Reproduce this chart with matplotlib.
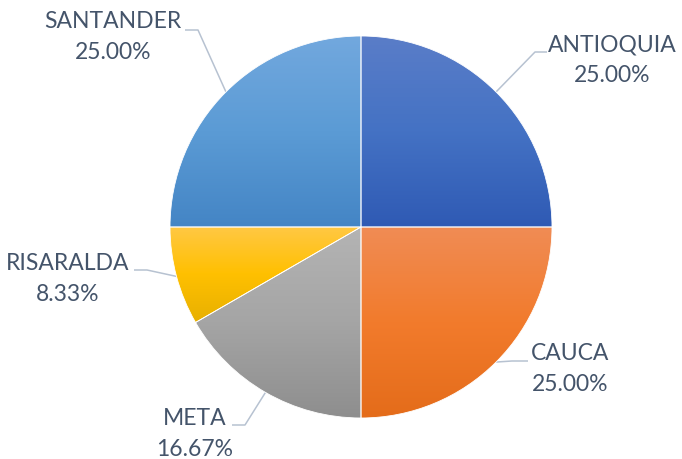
import numpy as np
import matplotlib
matplotlib.use("Agg")
import matplotlib.pyplot as plt
from matplotlib.colors import LinearSegmentedColormap

departments = ["ANTIOQUIA", "CAUCA", "META", "RISARALDA", "SANTANDER"]
shares = [25.00, 25.00, 16.67, 8.33, 25.00]
pct_labels = ["25.00%", "25.00%", "16.67%", "8.33%", "25.00%"]

# three-stop vertical gradients (top, middle, bottom), excel style
gradients = [
    ["#5A7DC8", "#4472C4", "#2F5AB4"],
    ["#F08C55", "#F27B2C", "#E46C1A"],
    ["#B4B4B4", "#A5A5A5", "#8E8E8E"],
    ["#FFC845", "#FFC000", "#E8B000"],
    ["#72A8DE", "#5B9BD5", "#4485C5"],
]

W, H = 682, 459
CX, CY, R = 361, 227, 191  # pie centre / radius in pixels


def px(x, y):
    # pixel position -> data units (pie radius = 1)
    return (x - CX) / R, (CY - y) / R


# label block centres and leader elbow/end points, in pixels
label_pos = [(612, 60), (570, 369), (195, 434), (68, 279), (113, 37)]
elbows = [(535, 52), (512, 361), (245, 425), (147, 270), (198, 30)]
line_ends = [(547, 52), (528, 361), (232, 425), (134, 270), (185, 30)]

text_col = "#44546A"
line_col = "#B7C2D1"

fig = plt.figure(figsize=(W / 100, H / 100), dpi=100)
ax = fig.add_axes([0, 0, 1, 1])
ax.axis("off")

wedges, _ = ax.pie(shares, startangle=90, counterclock=False, radius=1,
                   wedgeprops=dict(edgecolor="white", linewidth=0.6))

grad = np.linspace(0, 1, 256).reshape(-1, 1)
for w, cols in zip(wedges, gradients):
    w.set_facecolor("none")
    w.set_zorder(3)
    ext = w.get_path().get_extents()
    cmap = LinearSegmentedColormap.from_list("g", cols)
    im = ax.imshow(grad, cmap=cmap, aspect="auto", origin="upper",
                   extent=[ext.x0, ext.x1, ext.y0, ext.y1],
                   interpolation="bilinear", zorder=2)
    im.set_clip_path(w)

for w, name, pct, lp, el, le in zip(wedges, departments, pct_labels,
                                    label_pos, elbows, line_ends):
    mid = np.deg2rad((w.theta1 + w.theta2) / 2)
    x0, y0 = np.cos(mid), np.sin(mid)
    ex, ey = px(*el)
    lx, ly = px(*le)
    ax.plot([x0, ex, lx], [y0, ey, ly], color=line_col, lw=1.1, zorder=1,
            solid_capstyle="butt")
    tx, ty = px(*lp)
    ax.text(tx, ty, f"{name}\n{pct}", ha="center", va="center",
            color=text_col, fontsize=16.5, family="Lato", linespacing=1.55)

ax.set_xlim(-CX / R, (W - CX) / R)
ax.set_ylim(-(H - CY) / R, CY / R)
ax.set_aspect("equal")

fig.savefig("out.png", dpi=100, facecolor="white")
